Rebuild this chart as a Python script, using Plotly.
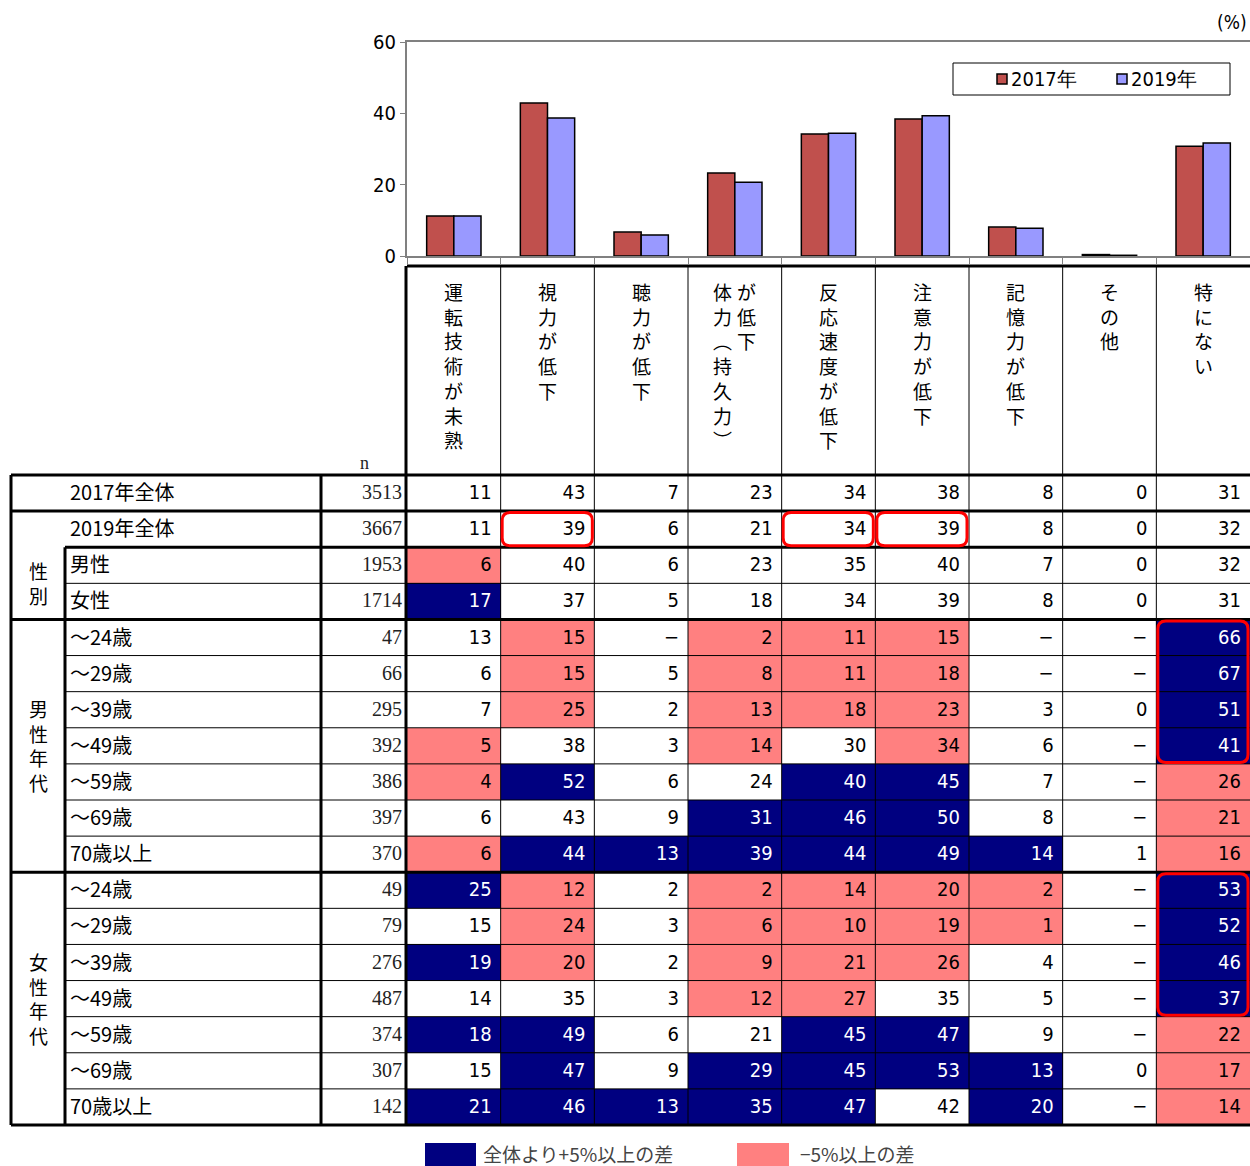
import plotly.graph_objects as go

# ---------------- data ----------------
categories = ["運転技術が未熟", "視力が低下", "聴力が低下", "体力が低下（持久力）",
              "反応速度が低下", "注意力が低下", "記憶力が低下", "その他", "特にない"]
# vertical header text, as stacks of characters (Excel stacked text wraps left -> right)
header_stacks = [
    [list("運転技術が未熟")],
    [list("視力が低下")],
    [list("聴力が低下")],
    [["体", "力", "︵", "持", "久", "力", "︶"], ["が", "低", "下"]],
    [list("反応速度が低下")],
    [list("注意力が低下")],
    [list("記憶力が低下")],
    [list("その他")],
    [list("特にない")],
]
series_names = ["2017年", "2019年"]
bar_2017 = [11.2, 42.9, 6.7, 23.3, 34.2, 38.4, 8.1, 0.4, 30.8]
bar_2019 = [11.2, 38.7, 5.9, 20.7, 34.4, 39.3, 7.8, 0.2, 31.7]

row_labels = ["2017年全体", "2019年全体", "男性", "女性",
              "～24歳", "～29歳", "～39歳", "～49歳", "～59歳", "～69歳", "70歳以上",
              "～24歳", "～29歳", "～39歳", "～49歳", "～59歳", "～69歳", "70歳以上"]
n_values = [3513, 3667, 1953, 1714, 47, 66, 295, 392, 386, 397, 370,
            49, 79, 276, 487, 374, 307, 142]
cell_values = [
    [11, 43, 7, 23, 34, 38, 8, 0, 31],
    [11, 39, 6, 21, 34, 39, 8, 0, 32],
    [6, 40, 6, 23, 35, 40, 7, 0, 32],
    [17, 37, 5, 18, 34, 39, 8, 0, 31],
    [13, 15, None, 2, 11, 15, None, None, 66],
    [6, 15, 5, 8, 11, 18, None, None, 67],
    [7, 25, 2, 13, 18, 23, 3, 0, 51],
    [5, 38, 3, 14, 30, 34, 6, None, 41],
    [4, 52, 6, 24, 40, 45, 7, None, 26],
    [6, 43, 9, 31, 46, 50, 8, None, 21],
    [6, 44, 13, 39, 44, 49, 14, 1, 16],
    [25, 12, 2, 2, 14, 20, 2, None, 53],
    [15, 24, 3, 6, 10, 19, 1, None, 52],
    [19, 20, 2, 9, 21, 26, 4, None, 46],
    [14, 35, 3, 12, 27, 35, 5, None, 37],
    [18, 49, 6, 21, 45, 47, 9, None, 22],
    [15, 47, 9, 29, 45, 53, 13, 0, 17],
    [21, 46, 13, 35, 47, 42, 20, None, 14],
]
# 0 = none, 1 = +5pt or more above total (navy), 2 = -5pt or more below (pink)
highlight = [
    [0, 0, 0, 0, 0, 0, 0, 0, 0],
    [0, 0, 0, 0, 0, 0, 0, 0, 0],
    [2, 0, 0, 0, 0, 0, 0, 0, 0],
    [1, 0, 0, 0, 0, 0, 0, 0, 0],
    [0, 2, 0, 2, 2, 2, 0, 0, 1],
    [0, 2, 0, 2, 2, 2, 0, 0, 1],
    [0, 2, 0, 2, 2, 2, 0, 0, 1],
    [2, 0, 0, 2, 0, 2, 0, 0, 1],
    [2, 1, 0, 0, 1, 1, 0, 0, 2],
    [0, 0, 0, 1, 1, 1, 0, 0, 2],
    [2, 1, 1, 1, 1, 1, 1, 0, 2],
    [1, 2, 0, 2, 2, 2, 2, 0, 1],
    [0, 2, 0, 2, 2, 2, 2, 0, 1],
    [1, 2, 0, 2, 2, 2, 0, 0, 1],
    [0, 0, 0, 2, 2, 0, 0, 0, 1],
    [1, 1, 0, 0, 1, 1, 0, 0, 2],
    [0, 1, 0, 1, 1, 1, 1, 0, 2],
    [1, 1, 1, 1, 1, 0, 1, 0, 2],
]
# red emphasis boxes: (first row, last row, column)
red_boxes = [(1, 1, 1), (1, 1, 4), (1, 1, 5), (4, 7, 8), (11, 14, 8)]
# row groups: (label, first row, last row) used for the vertical group captions
groups = [("性別", 2, 3), ("男性年代", 4, 10), ("女性年代", 11, 17)]
legend_labels = ["全体より+5%以上の差", "−5%以上の差"]

# ---------------- layout constants ----------------
W, H = 1250, 1166
NAVY, PINK = "#000080", "#FF8080"
C2017, C2019 = "#C0504D", "#9999FF"
NARROW = "Liberation Sans Narrow, Arial Narrow, DejaVu Sans Condensed, Roboto Condensed, Roboto, sans-serif"
JP = "Noto Sans CJK JP, sans-serif"
SERIF = "Liberation Serif, DejaVu Serif, serif"

X_TAB_L, X_GRP_R, X_LAB_R, X_DATA_L = 11, 65, 321, 407
NCOL = len(categories)
COL_W = (W - X_DATA_L) / NCOL
Y_HEAD_T, Y_DATA_T, Y_DATA_B = 266, 475, 1125
NROW = len(row_labels)
ROW_H = (Y_DATA_B - Y_DATA_T) / NROW
BAR_TOP, BAR_BOT = 42, 256
# bar legend box
LG_X0, LG_X1, LG_Y0, LG_Y1 = 953, 1230, 63, 95
LG_ITEM_X = [997, 1117]


def col_l(c):
    return X_DATA_L + c * COL_W


def row_t(r):
    return Y_DATA_T + r * ROW_H


fig = go.Figure()

# ---------------- bar chart ----------------
for name, vals, col in [(series_names[0], bar_2017, C2017), (series_names[1], bar_2019, C2019)]:
    fig.add_trace(go.Bar(x=categories, y=vals, name=name,
                         marker=dict(color=col, line=dict(color="black", width=1.5)),
                         xaxis="x", yaxis="y", hoverinfo="skip", showlegend=False))

# ---------------- table ----------------
xc = [col_l(c) + COL_W / 2 for c in range(NCOL)]
yc = [row_t(r) + ROW_H / 2 for r in range(NROW)]
fig.add_trace(go.Heatmap(
    x=xc, y=yc, z=highlight, zmin=0, zmax=2, showscale=False, hoverinfo="skip",
    colorscale=[[0, "#FFFFFF"], [0.25, "#FFFFFF"], [0.25, NAVY], [0.75, NAVY], [0.75, PINK], [1, PINK]],
    xaxis="x2", yaxis="y2"))

tx, ty, tt, tc = [], [], [], []
for r in range(NROW):
    for c in range(NCOL):
        v = cell_values[r][c]
        tx.append(col_l(c + 1) - 9)
        ty.append(yc[r] + 1)
        tt.append("−" if v is None else str(v))
        tc.append("white" if highlight[r][c] == 1 else "black")
fig.add_trace(go.Scatter(x=tx, y=ty, text=tt, mode="text", textposition="middle left",
                         textfont=dict(family=NARROW, size=20, color=tc),
                         xaxis="x2", yaxis="y2", showlegend=False, hoverinfo="skip", cliponaxis=False))
fig.add_trace(go.Scatter(x=[X_DATA_L - 5] * NROW, y=[y + 1 for y in yc], text=[str(n) for n in n_values],
                         mode="text", textposition="middle left",
                         textfont=dict(family=SERIF, size=20, color="#222"),
                         xaxis="x2", yaxis="y2", showlegend=False, hoverinfo="skip", cliponaxis=False))

shapes = []


def hline(y, x0, x1, w):
    shapes.append(dict(type="line", xref="x2", yref="y2", x0=x0, x1=x1, y0=y, y1=y,
                       line=dict(color="black", width=w)))


def vline(x, y0, y1, w):
    shapes.append(dict(type="line", xref="x2", yref="y2", x0=x, x1=x, y0=y0, y1=y1,
                       line=dict(color="black", width=w)))


# thin lines
for c in range(1, NCOL):
    vline(col_l(c), Y_HEAD_T, Y_DATA_B, 1)
section_starts = [0, 1] + [g[1] for g in groups[1:]]
for r in range(1, NROW):
    if r not in section_starts and r != groups[0][1]:
        hline(row_t(r), X_GRP_R, W, 1)
# thick lines
hline(Y_HEAD_T, X_DATA_L, W, 3)
for r in section_starts + [NROW]:
    hline(row_t(r), X_TAB_L, W, 3)
hline(row_t(groups[0][1]), X_GRP_R, W, 3)
vline(X_DATA_L - 1, Y_HEAD_T, Y_DATA_B, 3)
vline(X_TAB_L, Y_DATA_T, Y_DATA_B, 3)
vline(X_LAB_R, Y_DATA_T, Y_DATA_B, 3)
vline(X_GRP_R, row_t(groups[0][1]), Y_DATA_B, 3)


def rounded(x0, y0, x1, y1, rad):
    return (f"M{x0+rad},{y0} L{x1-rad},{y0} Q{x1},{y0} {x1},{y0+rad} L{x1},{y1-rad} "
            f"Q{x1},{y1} {x1-rad},{y1} L{x0+rad},{y1} Q{x0},{y1} {x0},{y1-rad} "
            f"L{x0},{y0+rad} Q{x0},{y0} {x0+rad},{y0} Z")


for r0, r1, c in red_boxes:
    shapes.append(dict(type="path", xref="x2", yref="y2",
                       path=rounded(col_l(c) + 1.5, row_t(r0) + 1.5, col_l(c + 1) - 2, row_t(r1 + 1) - 1.5, 8),
                       line=dict(color="#FF0000", width=3)))

# bottom legend swatches
LEG_Y0, LEG_Y1 = 1143, 1170
for x0, x1, colr in [(425, 476, NAVY), (737, 789, PINK)]:
    shapes.append(dict(type="rect", xref="x2", yref="y2", x0=x0, x1=x1, y0=LEG_Y0, y1=LEG_Y1,
                       fillcolor=colr, line=dict(width=0)))

# bar chart legend (box + swatches)
shapes.append(dict(type="rect", xref="x2", yref="y2", x0=LG_X0, x1=LG_X1, y0=LG_Y0, y1=LG_Y1,
                   fillcolor="white", line=dict(color="black", width=1)))
for lx, colr in zip(LG_ITEM_X, [C2017, C2019]):
    shapes.append(dict(type="rect", xref="x2", yref="y2", x0=lx, x1=lx + 10,
                       y0=(LG_Y0 + LG_Y1) / 2 - 5, y1=(LG_Y0 + LG_Y1) / 2 + 5,
                       fillcolor=colr, line=dict(color="black", width=1.5)))

annotations = []
for lx, name in zip(LG_ITEM_X, series_names):
    annotations.append(dict(xref="x2", yref="y2", x=lx + 12, y=(LG_Y0 + LG_Y1) / 2, xanchor="left",
                            yanchor="middle", text=name, showarrow=False,
                            font=dict(family=NARROW, size=20, color="black")))
# header vertical texts
for c, stacks in enumerate(header_stacks):
    cx = col_l(c) + COL_W / 2
    offs = [0] if len(stacks) == 1 else [-12, 12]
    for stack, off in zip(stacks, offs):
        annotations.append(dict(xref="x2", yref="y2", x=cx + off, y=276, xanchor="center", yanchor="top",
                                text="<br>".join(stack), showarrow=False,
                                font=dict(family=JP, size=19, color="black")))
# row labels
for r, lab in enumerate(row_labels):
    annotations.append(dict(xref="x2", yref="y2", x=68, y=yc[r] - 1.5, xanchor="left", yanchor="middle",
                            text=lab, showarrow=False, font=dict(family=JP, size=20, color="black")))
# group captions
for lab, r0, r1 in groups:
    annotations.append(dict(xref="x2", yref="y2", x=(X_TAB_L + X_GRP_R) / 2, y=(row_t(r0) + row_t(r1 + 1)) / 2,
                            xanchor="center", yanchor="middle", text="<br>".join(lab), showarrow=False,
                            font=dict(family=JP, size=19, color="black")))
annotations.append(dict(xref="x2", yref="y2", x=364, y=463, text="n", showarrow=False,
                        font=dict(family=SERIF, size=18, color="#222")))
annotations.append(dict(xref="x2", yref="y2", x=1232, y=22, text="(%)", showarrow=False,
                        font=dict(family=NARROW, size=19, color="black")))
for x, lab in [(481, legend_labels[0]), (798, legend_labels[1])]:
    annotations.append(dict(xref="x2", yref="y2", x=x, y=1153, xanchor="left", yanchor="middle",
                            text=lab, showarrow=False, font=dict(family=JP, size=19, color="#444")))

fig.update_layout(
    width=W, height=H, margin=dict(l=0, r=0, t=0, b=0, pad=0, autoexpand=False),
    paper_bgcolor="white", plot_bgcolor="rgba(0,0,0,0)",
    barmode="group", bargap=0.42, bargroupgap=0,
    showlegend=False,
    xaxis=dict(domain=[X_DATA_L / W, 1], showticklabels=False, ticks="outside", tickson="boundaries",
               ticklen=6, tickcolor="#808080", showline=True, linecolor="#808080", linewidth=2,
               mirror=True, showgrid=False, fixedrange=True),
    yaxis=dict(domain=[1 - BAR_BOT / H, 1 - BAR_TOP / H], range=[0, 60], dtick=20, ticks="outside",
               ticklen=5, tickcolor="#808080", showline=True, linecolor="#808080", linewidth=2,
               showgrid=False, zeroline=False, tickfont=dict(family=NARROW, size=20, color="black"),
               fixedrange=True),
    xaxis2=dict(domain=[0, 1], range=[0, W], visible=False, fixedrange=True),
    yaxis2=dict(domain=[0, 1], range=[H, 0], visible=False, fixedrange=True),
    shapes=shapes, annotations=annotations,
)

fig.write_html("out.html", config={"displayModeBar": False},
               post_script="document.body.style.margin='0';")
